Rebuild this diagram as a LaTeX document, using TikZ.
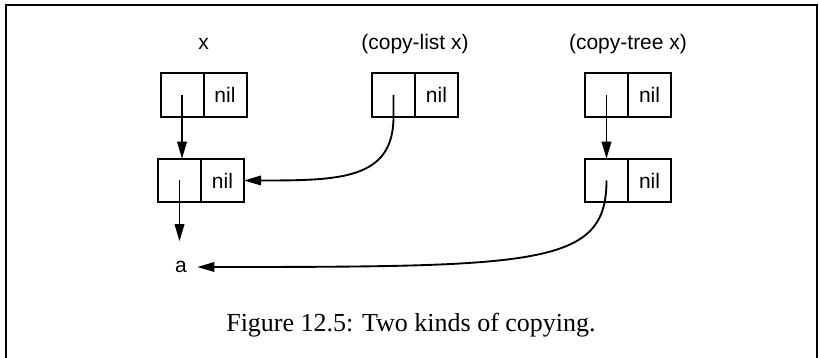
\documentclass[tikz,border=0pt]{standalone}
\usepackage{fontspec}
\setmainfont{Liberation Serif}
\newfontfamily\figsans{Liberation Sans}
\usepackage{tikz}
\usetikzlibrary{positioning,arrows.meta}

\begin{document}
\begin{tikzpicture}[x=0.4pt, y=-0.4pt,
    cell/.style={rectangle, draw, line width=0.8pt, minimum width=17.2pt, minimum height=17.4pt,
        inner sep=0pt, outer sep=0pt, font=\figsans\fontsize{8.4}{10}\selectfont},
    lbl/.style={anchor=base, inner sep=0pt, font=\figsans\fontsize{8.4}{10}\selectfont},
    atom/.style={inner sep=4pt, font=\figsans\fontsize{8.4}{10}\selectfont},
    capt/.style={anchor=base, inner sep=0pt, font=\fontsize{10.4}{12}\selectfont},
    ptr/.style={-{Triangle[length=6.8pt, width=3.8pt]}, line width=0.75pt}]
    \useasboundingbox (0,0) rectangle (820,358);

    % frame, open at the bottom
    \draw[line width=0.9pt] (6,358) -- (6,5) -- (817,5) -- (817,358);

    % x
    \node[cell] (xtopcar) at (182,95) {};
    \node[cell, right=0pt of xtopcar] (xtopcdr) {nil};
    \node[cell] (xbotcar) at (179.5,180.5) {};
    \node[cell, right=0pt of xbotcar] (xbotcdr) {nil};
    \node[atom] (a) at (181,267) {a};

    % (copy-list x)
    \node[cell] (cltopcar) at (393.5,95) {};
    \node[cell, right=0pt of cltopcar] (cltopcdr) {nil};

    % (copy-tree x)
    \node[cell] (cttopcar) at (606.5,95) {};
    \node[cell, right=0pt of cttopcar] (cttopcdr) {nil};
    \node[cell] (ctbotcar) at (606.5,180.5) {};
    \node[cell, right=0pt of ctbotcar] (ctbotcdr) {nil};

    % pointers
    \draw[ptr] (xtopcar.center) -- (xbotcar.north -| xtopcar.center);
    \draw[ptr, shorten >=3.8pt] (xbotcar.center) -- (xbotcar.center |- a.north);
    \draw[ptr] (cltopcar.center) -- (cltopcar.south) .. controls +(0,63) and +(96,0) .. (xbotcdr.east);
    \draw[ptr] (cttopcar.center) -- (ctbotcar.north);
    \draw[ptr] (ctbotcar.center) .. controls +(0,85) and +(343,0) .. (a.east);

    % titles
    \node[lbl] (xlbl) at (xtopcar.east |- 0,50) {x};
    \node[lbl] (cllbl) at (cltopcar.east |- 0,50) {(copy-list x)};
    \node[lbl] (ctlbl) at (cttopcar.east |- 0,50) {(copy-tree x)};

    \node[capt] (caption) at (411,332) {Figure 12.5: Two kinds of copying.};
\end{tikzpicture}
\end{document}
